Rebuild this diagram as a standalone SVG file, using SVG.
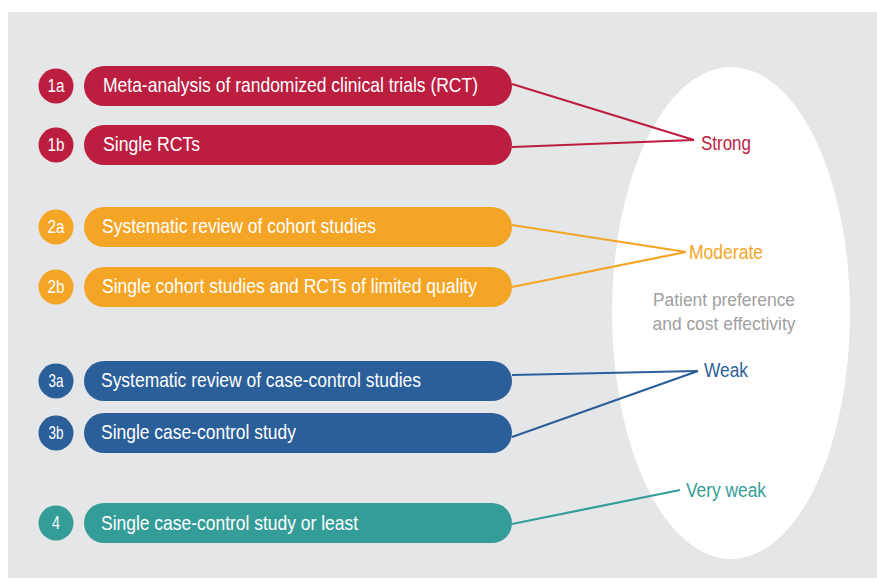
<svg xmlns="http://www.w3.org/2000/svg" width="877" height="580" viewBox="0 0 877 580">
<style>
.pill{stroke:none}
.lbl{font-family:"Liberation Sans",Arial,sans-serif;font-size:21px;fill:#fff}
.num{font-family:"Liberation Sans",Arial,sans-serif;font-size:19px;fill:#fff;text-anchor:middle}
.lv{font-family:"Liberation Sans",Arial,sans-serif;font-size:20.5px}
.pp{font-family:"Liberation Sans",Arial,sans-serif;font-size:18.5px;fill:#A0A0A0;text-anchor:middle}
.red{fill:#BC1E3F}.org{fill:#F5A526}.blu{fill:#2B5F9A}.tea{fill:#359D98}
.conn line{stroke-width:2.2;fill:none}
</style>
<rect x="8" y="12" width="869" height="566" fill="#E5E6E8"/>
<ellipse id="ellipse" cx="731" cy="313" rx="119" ry="246" fill="#fff"/>
<text class="pp" x="724" y="306" textLength="142" lengthAdjust="spacingAndGlyphs">Patient preference</text>
<text class="pp" x="724" y="330" textLength="143" lengthAdjust="spacingAndGlyphs">and cost effectivity</text>
<g class="conn" id="connectors">
<line x1="512" y1="84" x2="694" y2="140" stroke="#BC1E3F"/>
<line x1="512" y1="147" x2="694" y2="140" stroke="#BC1E3F"/>
<line x1="512" y1="225" x2="686" y2="252" stroke="#F5A526"/>
<line x1="512" y1="287" x2="686" y2="252" stroke="#F5A526"/>
<line x1="512" y1="375" x2="698" y2="371" stroke="#2B5F9A"/>
<line x1="512" y1="437" x2="698" y2="371" stroke="#2B5F9A"/>
<line x1="512" y1="524" x2="680" y2="490" stroke="#359D98"/>
</g>
<g id="n1a">
<circle class="red" cx="56" cy="86" r="17.5"/>
<text class="num" x="56" y="92" textLength="17" lengthAdjust="spacingAndGlyphs">1a</text>
<rect class="red" x="84" y="66" width="428" height="40" rx="20"/>
<text class="lbl" x="103" y="92" textLength="375" lengthAdjust="spacingAndGlyphs">Meta-analysis of randomized clinical trials (RCT)</text>
</g>
<g id="n1b">
<circle class="red" cx="56" cy="145" r="17.5"/>
<text class="num" x="56" y="151" textLength="17" lengthAdjust="spacingAndGlyphs">1b</text>
<rect class="red" x="84" y="125" width="428" height="40" rx="20"/>
<text class="lbl" x="103" y="151" textLength="97" lengthAdjust="spacingAndGlyphs">Single RCTs</text>
</g>
<g id="n2a">
<circle class="org" cx="56" cy="227" r="17.5"/>
<text class="num" x="56" y="233" textLength="17" lengthAdjust="spacingAndGlyphs">2a</text>
<rect class="org" x="84" y="207" width="428" height="40" rx="20"/>
<text class="lbl" x="102" y="233" textLength="274" lengthAdjust="spacingAndGlyphs">Systematic review of cohort studies</text>
</g>
<g id="n2b">
<circle class="org" cx="56" cy="287" r="17.5"/>
<text class="num" x="56" y="293" textLength="17" lengthAdjust="spacingAndGlyphs">2b</text>
<rect class="org" x="84" y="267" width="428" height="40" rx="20"/>
<text class="lbl" x="102" y="293" textLength="375" lengthAdjust="spacingAndGlyphs">Single cohort studies and RCTs of limited quality</text>
</g>
<g id="n3a">
<circle class="blu" cx="56" cy="381" r="17.5"/>
<text class="num" x="56" y="387" textLength="15" lengthAdjust="spacingAndGlyphs">3a</text>
<rect class="blu" x="84" y="361" width="428" height="40" rx="20"/>
<text class="lbl" x="101" y="387" textLength="320" lengthAdjust="spacingAndGlyphs">Systematic review of case-control studies</text>
</g>
<g id="n3b">
<circle class="blu" cx="56" cy="433" r="17.5"/>
<text class="num" x="56" y="439" textLength="15" lengthAdjust="spacingAndGlyphs">3b</text>
<rect class="blu" x="84" y="413" width="428" height="40" rx="20"/>
<text class="lbl" x="101" y="439" textLength="195" lengthAdjust="spacingAndGlyphs">Single case-control study</text>
</g>
<g id="n4">
<circle class="tea" cx="56" cy="523" r="17.5"/>
<text class="num" x="56" y="529" textLength="8" lengthAdjust="spacingAndGlyphs">4</text>
<rect class="tea" x="84" y="503" width="428" height="40" rx="20"/>
<text class="lbl" x="101" y="530" textLength="257" lengthAdjust="spacingAndGlyphs">Single case-control study or least</text>
</g>
<g id="strong"><text class="lv red" x="701" y="150" textLength="50" lengthAdjust="spacingAndGlyphs">Strong</text></g>
<g id="moderate"><text class="lv org" x="689" y="259" textLength="74" lengthAdjust="spacingAndGlyphs">Moderate</text></g>
<g id="weak"><text class="lv blu" x="704" y="377" textLength="44" lengthAdjust="spacingAndGlyphs">Weak</text></g>
<g id="veryweak"><text class="lv tea" x="686" y="497" textLength="80" lengthAdjust="spacingAndGlyphs">Very weak</text></g>
</svg>
